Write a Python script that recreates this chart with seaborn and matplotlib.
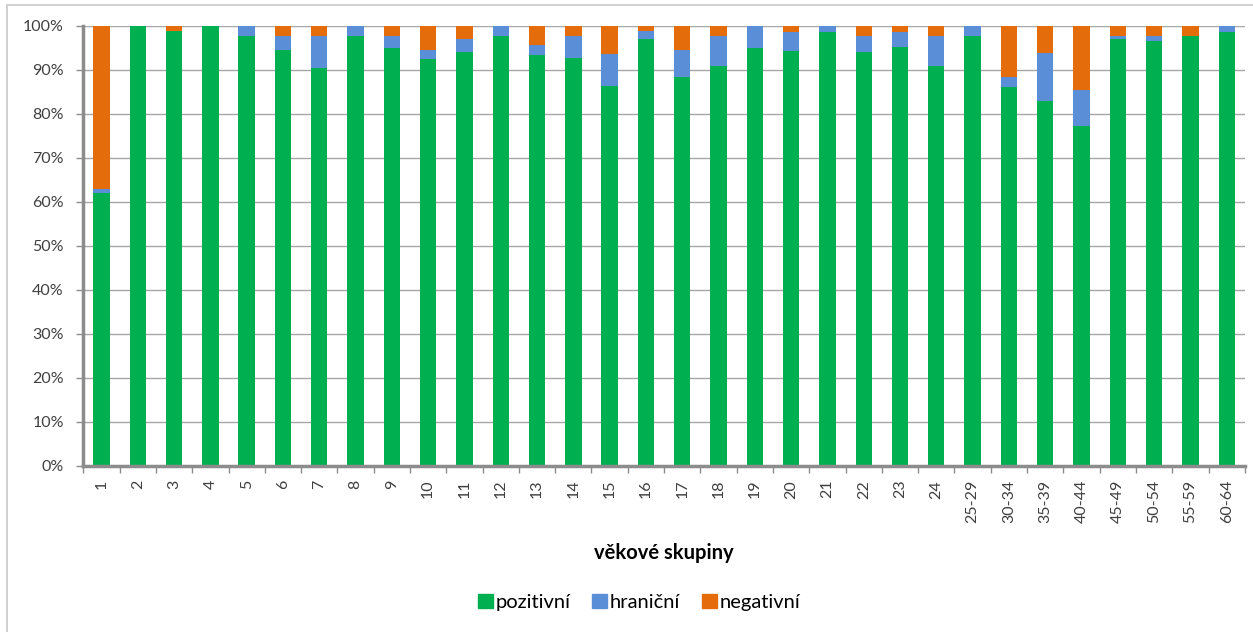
import pandas as pd
import seaborn as sns
import matplotlib.pyplot as plt
from matplotlib.patches import Patch, Rectangle

# vekove skupiny
skupiny = [str(i) for i in range(1, 25)] + ["25-29", "30-34", "35-39", "40-44",
                                             "45-49", "50-54", "55-59", "60-64"]
# podily v %
pozitivni = [62.0, 100.0, 98.8, 100.0, 97.7, 94.5, 90.5, 97.7, 95.0, 92.6, 94.0, 97.7,
             93.4, 92.8, 86.3, 97.0, 88.4, 90.9, 95.1, 94.2, 98.7, 94.1, 95.3, 90.9,
             97.7, 86.2, 83.0, 77.3, 97.0, 96.6, 97.7, 98.7]
hranicni = [1.0, 0.0, 0.0, 0.0, 2.3, 3.2, 7.2, 2.3, 2.7, 1.9, 3.0, 2.3,
            2.3, 4.9, 7.3, 1.9, 6.1, 6.8, 4.9, 4.5, 1.3, 3.6, 3.4, 6.8,
            2.3, 2.1, 10.9, 8.2, 0.7, 1.1, 0.0, 1.3]
negativni = [37.0, 0.0, 1.2, 0.0, 0.0, 2.3, 2.3, 0.0, 2.3, 5.5, 3.0, 0.0,
             4.3, 2.3, 6.4, 1.1, 5.5, 2.3, 0.0, 1.3, 0.0, 2.3, 1.3, 2.3,
             0.0, 11.7, 6.1, 14.5, 2.3, 2.3, 2.3, 0.0]

df = pd.DataFrame({"skupina": skupiny, "pozitivni": pozitivni,
                   "hranicni": hranicni, "negativni": negativni})
df["pos_hra"] = df["pozitivni"] + df["hranicni"]
df["celkem"] = df["pos_hra"] + df["negativni"]

zelena = "#00AF50"
modra = "#5A8ED6"
oranzova = "#E46C0A"
seda = "#8c8c8c"

plt.rcParams["font.family"] = ["Lato", "DejaVu Sans"]

fig = plt.figure(figsize=(12.53, 6.32), dpi=100)
ax = fig.add_axes([0.0665, 0.2627, 0.927, 0.6962])

# prekryvane sloupce = skladany graf
sns.barplot(data=df, x="skupina", y="celkem", color=oranzova, width=0.45,
            saturation=1, ax=ax)
sns.barplot(data=df, x="skupina", y="pos_hra", color=modra, width=0.45,
            saturation=1, ax=ax)
sns.barplot(data=df, x="skupina", y="pozitivni", color=zelena, width=0.45,
            saturation=1, ax=ax)

ax.set_ylim(0, 100)
ax.set_xlim(-0.5, len(skupiny) - 0.5)
ax.set_yticks(range(0, 101, 10))
ax.set_yticklabels([f"{v}%" for v in range(0, 101, 10)], fontsize=11.5, color="#404040")
ax.set_xticks(range(len(skupiny)))
ax.set_xticklabels(skupiny, rotation=90, fontsize=11.5, color="#404040")
ax.set_xticks([i + 0.5 for i in range(-1, len(skupiny))], minor=True)
ax.tick_params(axis="x", which="major", length=0, pad=10)
ax.tick_params(axis="x", which="minor", length=5, color=seda, width=1)
ax.tick_params(axis="y", length=5, color=seda, width=1, pad=9)

ax.set_axisbelow(True)
ax.yaxis.grid(True, color="#a6a6a6", linewidth=1)
for s in ["top", "right"]:
    ax.spines[s].set_visible(False)
for s in ["left", "bottom"]:
    ax.spines[s].set_color(seda)
    ax.spines[s].set_linewidth(2.5)

ax.set_ylabel("")
ax.set_xlabel("věkové skupiny", fontsize=14.5, fontweight="bold", labelpad=14)

handles = [Patch(color=zelena, label="pozitivní"),
           Patch(color=modra, label="hraniční"),
           Patch(color=oranzova, label="negativní")]
fig.legend(handles=handles, loc="center", bbox_to_anchor=(0.51, 0.047), ncol=3,
           frameon=False, fontsize=14.5, handlelength=0.75, handleheight=0.75,
           handletextpad=0.15, columnspacing=1.05)

fig.patches.append(Rectangle((0.0056, -0.02), 1.0, 1.012, transform=fig.transFigure,
                             fill=False, edgecolor="#c8c8c8", linewidth=1.2))

fig.savefig("out.png", dpi=100)
